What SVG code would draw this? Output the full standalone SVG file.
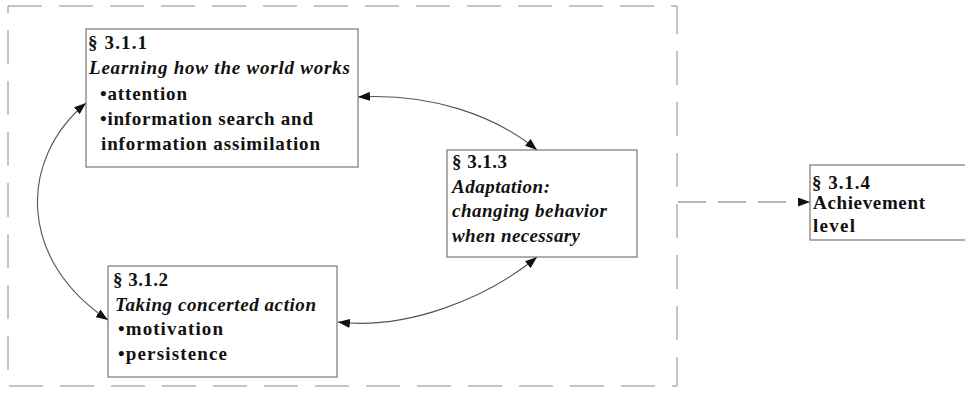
<svg xmlns="http://www.w3.org/2000/svg" width="965" height="396" viewBox="0 0 965 396">
  <style>
    .box { fill: #ffffff; stroke: #6a6a6a; stroke-width: 1.1; }
    .frame { fill: none; stroke: #8a8a8a; stroke-width: 1; stroke-dasharray: 34 17; }
    .link { fill: none; stroke: #555555; stroke-width: 1.1; }
    .dash { fill: none; stroke: #707070; stroke-width: 1; stroke-dasharray: 28 12; }
    text { font-family: "Liberation Serif", "Times New Roman", serif; font-size: 19px; font-weight: bold; fill: #111111; }
    .it { font-style: italic; }
  </style>
  <defs>
    <marker id="head" viewBox="0 0 12 9" refX="12" refY="4.5" markerWidth="12" markerHeight="9" markerUnits="userSpaceOnUse" orient="auto-start-reverse">
      <path d="M0,0 L12,4.5 L0,9 z" fill="#111111"/>
    </marker>
  </defs>
  <rect width="965" height="396" fill="#ffffff"/>

  <!-- enclosing dashed frame -->
  <rect class="frame" x="8" y="6" width="669" height="380"/>

  <g id="connectors">
    <path class="link" d="M358,97 C430,93 495,115 537,150" marker-start="url(#head)" marker-end="url(#head)"/>
    <path class="link" d="M537,257 C485,300 405,330 338,322" marker-start="url(#head)" marker-end="url(#head)"/>
    <path class="link" d="M86,103 C18,160 18,260 108,320" marker-start="url(#head)" marker-end="url(#head)"/>
    <path class="dash" d="M678,202 L810,202" marker-end="url(#head)"/>
  </g>

  <g id="node-311">
    <rect class="box" x="86" y="29" width="272" height="138"/>
    <text x="88" y="49" textLength="59" lengthAdjust="spacing">§ 3.1.1</text>
    <text class="it" x="89" y="74" textLength="261" lengthAdjust="spacing">Learning how the world works</text>
    <text x="100" y="100" textLength="87" lengthAdjust="spacing">•attention</text>
    <text x="100" y="125" textLength="213" lengthAdjust="spacing">•information search and</text>
    <text x="101" y="150" textLength="219" lengthAdjust="spacing">information assimilation</text>
  </g>

  <g id="node-312">
    <rect class="box" x="108" y="266" width="229" height="111"/>
    <text x="113" y="286" textLength="55" lengthAdjust="spacing">§ 3.1.2</text>
    <text class="it" x="115" y="311" textLength="201" lengthAdjust="spacing">Taking concerted action</text>
    <text x="118" y="335" textLength="105" lengthAdjust="spacing">•motivation</text>
    <text x="118" y="360" textLength="109" lengthAdjust="spacing">•persistence</text>
  </g>

  <g id="node-313">
    <rect class="box" x="447" y="150" width="190" height="107"/>
    <text x="452" y="168" textLength="55" lengthAdjust="spacing">§ 3.1.3</text>
    <text class="it" x="452" y="193" textLength="98" lengthAdjust="spacing">Adaptation:</text>
    <text class="it" x="452" y="217" textLength="155" lengthAdjust="spacing">changing behavior</text>
    <text class="it" x="452" y="242" textLength="128" lengthAdjust="spacing">when necessary</text>
  </g>

  <g id="node-314">
    <rect class="box" x="810" y="165" width="170" height="75"/>
    <text x="812" y="189" textLength="58" lengthAdjust="spacing">§ 3.1.4</text>
    <text x="813" y="209" textLength="112" lengthAdjust="spacing">Achievement</text>
    <text x="813" y="232" textLength="42" lengthAdjust="spacing">level</text>
  </g>
</svg>
